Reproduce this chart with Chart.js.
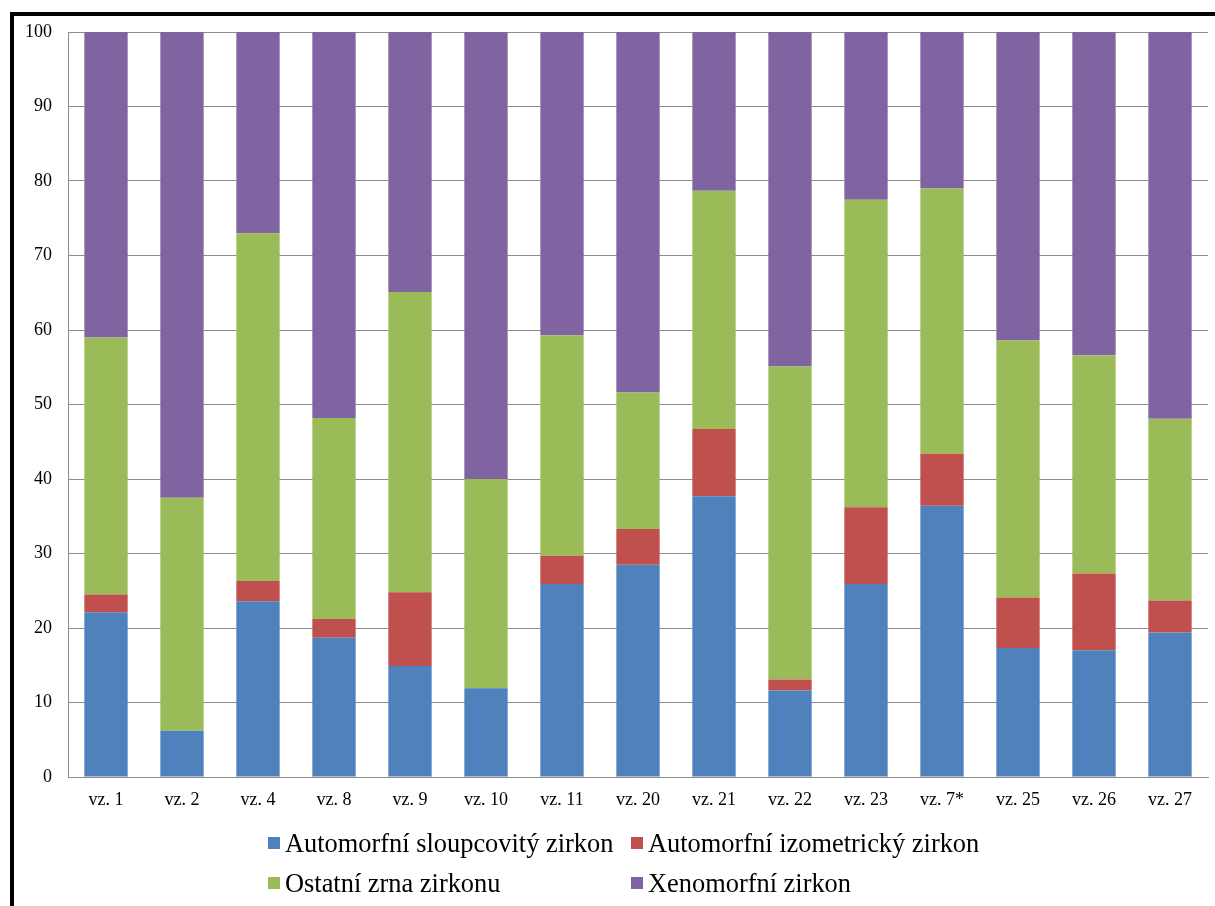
<!DOCTYPE html>
<html>
<head>
<meta charset="utf-8">
<script src="https://cdn.jsdelivr.net/npm/chart.js@4/dist/chart.umd.min.js"></script>
<style>
  html, body { margin: 0; padding: 0; background: #fff; }
  #wrap { position: relative; width: 1215px; height: 906px; overflow: hidden; background: #fff; }
  #frame { position: absolute; left: 10px; top: 12px; width: 1205px; height: 894px;
           border-top: 4px solid #000; border-left: 4px solid #000; box-sizing: border-box; pointer-events: none; }
  canvas { position: absolute; left: 0; top: 0; }
  #legend { position: absolute; left: 268px; top: 823px; display: grid;
            grid-template-columns: 363px auto; grid-auto-rows: 40px;
            font-family: "Liberation Serif", "Times New Roman", serif; font-size: 26.4px; color: #000; }
  #legend .item { display: flex; align-items: center; white-space: nowrap; line-height: 40px; }
  #legend .box { width: 12px; height: 12px; margin-right: 5px; flex: none; }
</style>
</head>
<body>
<div id="wrap">
  <canvas id="chart" width="1215" height="906"></canvas>
  <div id="legend"></div>
  <div id="frame"></div>
</div>
<script>
// Sample labels along the x axis
const categories = ['vz. 1', 'vz. 2', 'vz. 4', 'vz. 8', 'vz. 9', 'vz. 10', 'vz. 11', 'vz. 20',
                    'vz. 21', 'vz. 22', 'vz. 23', 'vz. 7*', 'vz. 25', 'vz. 26', 'vz. 27'];

// Share of each zircon type per sample (%)
const sloupcovity  = [22.1, 6.2, 23.6, 18.7, 14.9, 11.9, 25.9, 28.5, 37.7, 11.6, 25.9, 36.4, 17.3, 17.0, 19.4];
const izometricky  = [2.4, 0.0, 2.7, 2.5, 9.9, 0.0, 3.8, 4.8, 9.0, 1.5, 10.3, 7.0, 6.8, 10.3, 4.3];
const ostatni      = [34.5, 31.3, 46.7, 27.0, 40.3, 28.1, 29.6, 18.3, 32.0, 42.0, 41.3, 35.6, 34.5, 29.3, 24.4];
const xenomorfni   = [41.0, 62.5, 27.0, 51.8, 34.9, 60.0, 40.7, 48.4, 21.3, 44.9, 22.5, 21.0, 41.4, 43.4, 51.9];

// Value axis
const yTicks = [0, 10, 20, 30, 40, 50, 60, 70, 80, 90, 100];

const seriesNames = ['Automorfní sloupcovitý zirkon', 'Automorfní izometrický zirkon',
                     'Ostatní zrna zirkonu', 'Xenomorfní zirkon'];
const seriesColors = ['#4F81BD', '#C0504D', '#9BBB59', '#8064A2'];
const seriesData = [sloupcovity, izometricky, ostatni, xenomorfni];

const serif = '"Liberation Serif", "Times New Roman", serif';
const gridGray = '#8c8c8c';

const chart = new Chart(document.getElementById('chart'), {
  type: 'bar',
  data: {
    labels: categories,
    datasets: seriesData.map((d, i) => ({
      label: seriesNames[i],
      data: d,
      backgroundColor: seriesColors[i],
      borderWidth: 0,
      categoryPercentage: 1,
      barPercentage: 0.57
    }))
  },
  options: {
    responsive: false,
    animation: false,
    layout: { padding: { left: 0, right: 7, top: 32, bottom: 0 } },
    plugins: {
      legend: { display: false },
      tooltip: { enabled: false }
    },
    scales: {
      x: {
        stacked: true,
        grid: { display: false, drawTicks: false },
        border: { display: true, color: gridGray, width: 1 },
        ticks: { color: '#000', font: { family: serif, size: 18 }, padding: 12, maxRotation: 0, autoSkip: false },
        afterFit: (s) => { s.height = 129; }
      },
      y: {
        stacked: true,
        min: 0,
        max: 100,
        afterBuildTicks: (s) => { s.ticks = yTicks.map(v => ({ value: v })); },
        grid: { color: gridGray, lineWidth: 1, drawTicks: false },
        border: { display: true, color: gridGray, width: 1 },
        ticks: { color: '#000', font: { family: serif, size: 18 }, padding: 16 },
        afterFit: (s) => { s.width = 68; }
      }
    }
  }
});

// Two-column legend built from the chart's own legend items
const legendEl = document.getElementById('legend');
const items = Chart.defaults.plugins.legend.labels.generateLabels(chart);
items.forEach(it => {
  const row = document.createElement('div');
  row.className = 'item';
  const box = document.createElement('span');
  box.className = 'box';
  box.style.background = it.fillStyle;
  const txt = document.createElement('span');
  txt.textContent = it.text;
  row.appendChild(box);
  row.appendChild(txt);
  legendEl.appendChild(row);
});
</script>
</body>
</html>
